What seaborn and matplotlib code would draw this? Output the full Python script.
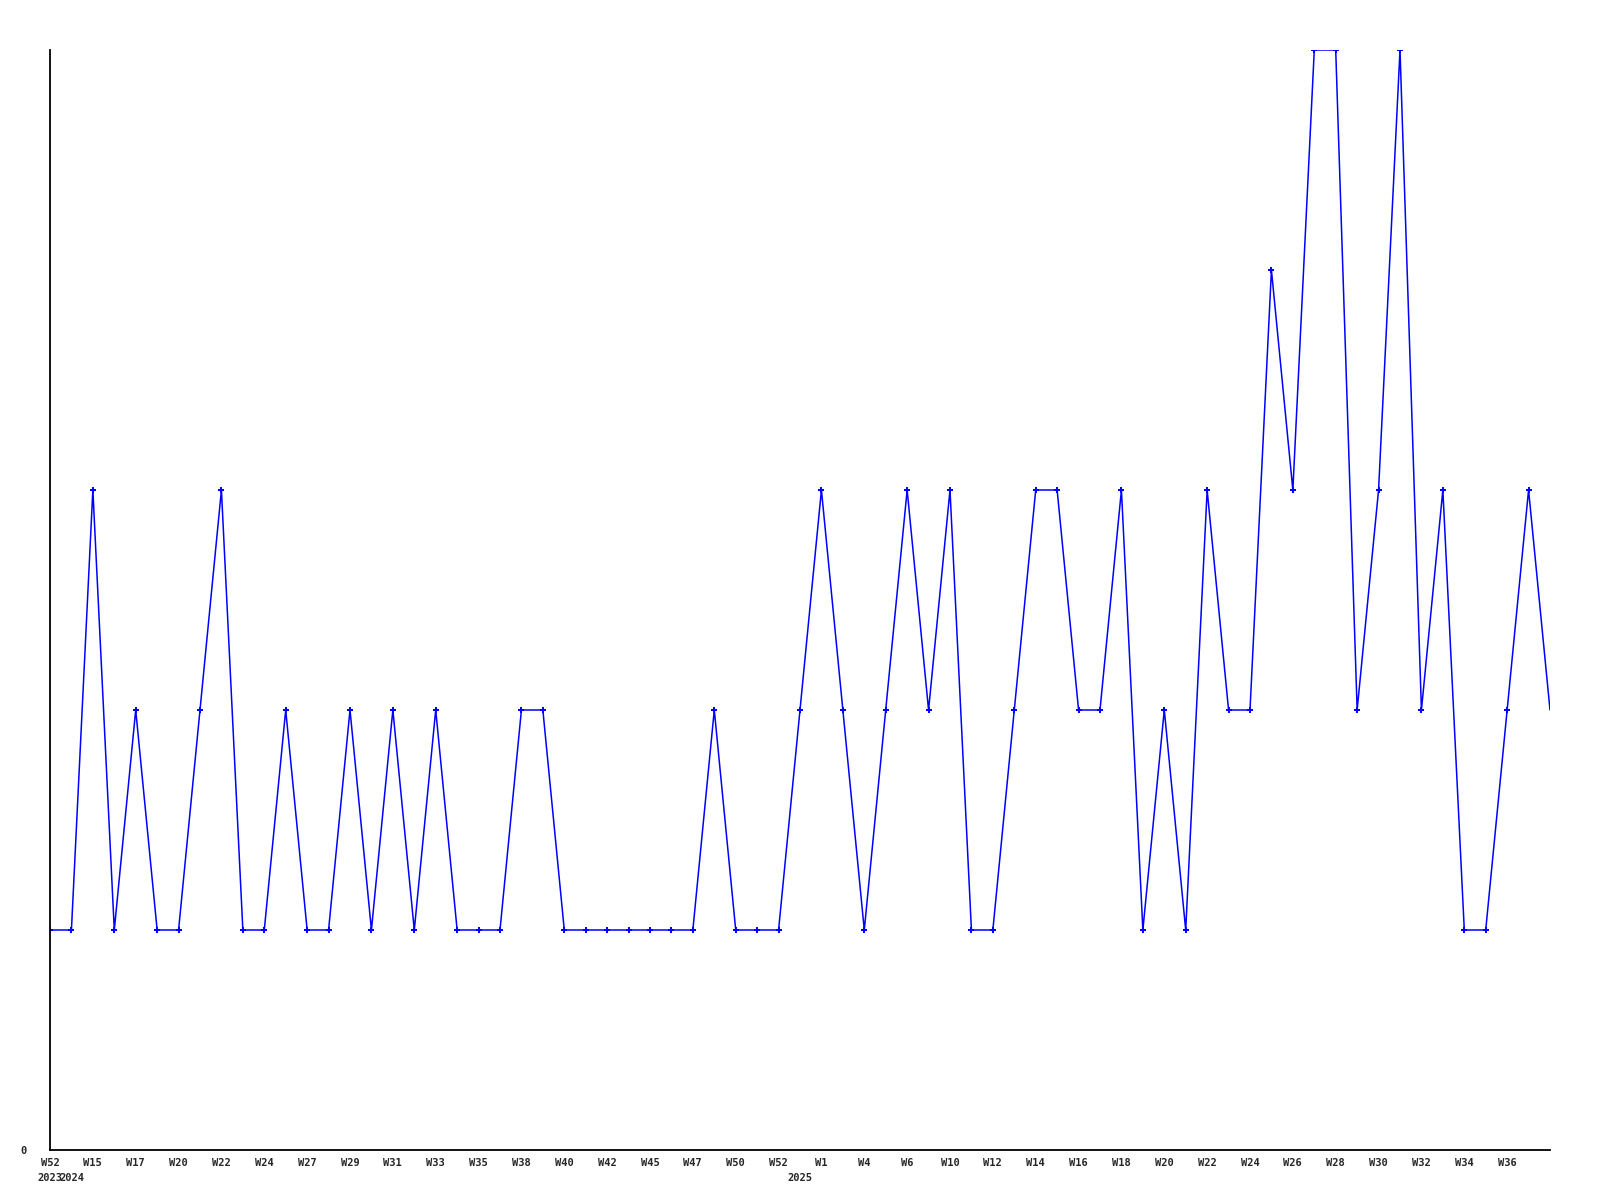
import numpy as np
import pandas as pd
import seaborn as sns
import matplotlib.pyplot as plt

# weekly counts, one point per week (categorical x positions)
counts = [1, 1, 3, 1, 2, 1, 1, 2, 3, 1,
          1, 2, 1, 1, 2, 1, 2, 1, 2, 1,
          1, 1, 2, 2, 1, 1, 1, 1, 1, 1,
          1, 2, 1, 1, 1, 2, 3, 2, 1, 2,
          3, 2, 3, 1, 1, 2, 3, 3, 2, 2,
          3, 1, 2, 1, 3, 2, 2, 4, 3, 5,
          5, 2, 3, 5, 2, 3, 1, 1, 2, 3,
          2]

# labels shown on every second week
tick_labels = ["W52", "W15", "W17", "W20", "W22", "W24", "W27", "W29", "W31",
               "W33", "W35", "W38", "W40", "W42", "W45", "W47", "W50", "W52",
               "W1", "W4", "W6", "W10", "W12", "W14", "W16", "W18", "W20",
               "W22", "W24", "W26", "W28", "W30", "W32", "W34", "W36"]

years = ["2023", "2024", "2025"]
year_pos = [0, 1, 35]

df = pd.DataFrame({"week": np.arange(len(counts)), "count": counts})

sns.set_style("white")
plt.rcParams["font.family"] = ["DejaVu Sans Mono"]

fig = plt.figure(figsize=(16, 12), dpi=100)
ax = fig.add_axes([50 / 1600, 50 / 1200, 1500 / 1600, 1100 / 1200])

sns.lineplot(data=df, x="week", y="count", color="#0000ff", linewidth=1.1, ax=ax)
# markers on all weeks but the last (current, incomplete) one
sns.scatterplot(data=df.iloc[:-1], x="week", y="count", color="#0000ff",
                marker="P", s=16, linewidth=0, ax=ax)

ax.set_xlim(0, len(counts) - 1)
ax.set_ylim(0, 5)
ax.set_xlabel("")
ax.set_ylabel("")

ax.set_xticks(np.arange(0, 2 * len(tick_labels), 2))
ax.set_xticklabels(tick_labels, fontsize=7.5, fontweight="bold")
ax.set_yticks([0])
ax.set_yticklabels(["0"], fontsize=7.5, fontweight="bold")
ax.tick_params(axis="both", length=0)
ax.tick_params(axis="x", pad=6)
ax.tick_params(axis="y", pad=17)

for s in ["top", "right"]:
    ax.spines[s].set_visible(False)
for s in ["left", "bottom"]:
    ax.spines[s].set_color("black")
    ax.spines[s].set_linewidth(1.3)

for yr, pos in zip(years, year_pos):
    ax.annotate(yr, xy=(pos, 0), xycoords=("data", "axes fraction"),
                xytext=(0, -20), textcoords="offset points",
                ha="center", va="center", fontsize=7.5, fontweight="bold")

fig.savefig("out.png", dpi=100)
